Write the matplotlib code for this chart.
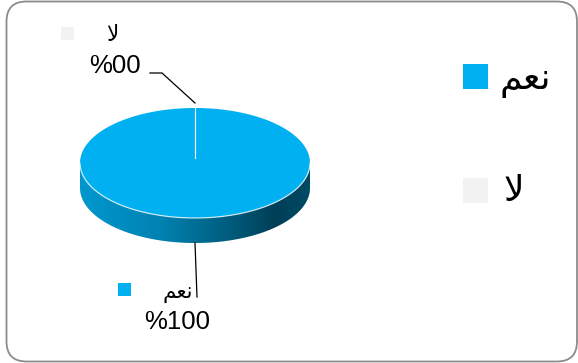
import numpy as np
import matplotlib.pyplot as plt
from matplotlib.patches import Polygon, Rectangle, FancyBboxPatch
from matplotlib.colors import to_rgb

categories = ['نعم', 'لا']
values = [100, 0]
colors = ['#00B0F0', '#F2F2F2']

# matplotlib does no arabic shaping -> visual order with presentation forms
shaped = {'نعم': '\uFEE2\uFECC\uFEE7', 'لا': '\uFEFB'}

fig = plt.figure(figsize=(5.78, 3.63), dpi=100)
ax = fig.add_axes([0, 0, 1, 1])
ax.set_xlim(0, 578)
ax.set_ylim(363, 0)
ax.axis('off')

# rounded frame
ax.add_patch(FancyBboxPatch((6.5, 1.5), 570.5, 360, boxstyle='round,pad=0,rounding_size=20',
                            fc='white', ec='#8c8c8c', lw=1.3, zorder=0))

# 3d pie geometry (pixels)
cx, cy, rx, ry, depth = 195, 163, 115, 55, 25


def ell(t, dy=0):
    t = np.radians(t)
    return cx + rx * np.cos(t), cy - ry * np.sin(t) + dy


total = float(sum(values))
wedges = []
start = 90.0
for v in values:
    span = v / total * 360
    wedges.append((start, start - span))
    start -= span

# side wall (front half only), darker gradient left -> right
shade_pos = [0, 0.35, 0.65, 0.85, 1]
shade_val = [0.86, 0.74, 0.52, 0.36, 0.42]
f = np.interp(np.linspace(0, 1, 256), shade_pos, shade_val)
for (t1, t2), c in zip(wedges, colors):
    if t1 == t2:
        continue
    for k in range(-2, 2):
        lo = max(t2, 180 + 360 * k)
        hi = min(t1, 360 + 360 * k)
        if hi <= lo:
            continue
        tt = np.linspace(lo, hi, 200)
        xa, ya = ell(tt)
        xb, yb = ell(tt[::-1], depth)
        poly = Polygon(np.column_stack([np.r_[xa, xb], np.r_[ya, yb]]), fc='none', ec='none')
        ax.add_patch(poly)
        base = np.array(to_rgb(c))
        img = (f[:, None] * base[None, :])[None, :, :]
        im = ax.imshow(img, extent=(cx - rx, cx + rx, cy + ry + depth + 2, cy - 2),
                       aspect='auto', interpolation='bilinear', zorder=1)
        im.set_clip_path(poly)
        ax.plot(xa, ya, color='white', lw=0.9, alpha=0.75, zorder=3)

# top faces
for (t1, t2), c in zip(wedges, colors):
    if t1 == t2:
        continue
    tt = np.linspace(t1, t2, 400)
    x, y = ell(tt)
    ax.add_patch(Polygon(np.column_stack([np.r_[cx, x], np.r_[cy, y]]), fc=c, ec='none', zorder=2))

# wedge boundaries
for t1, t2 in wedges:
    x, y = ell(t1)
    ax.plot([cx, x], [cy - 5, y], color='white', lw=0.8, alpha=0.8, zorder=3)

# data labels with leader lines
leaders = [[(0, 0), (2, 54)], [(0, -5), (-33, -35), (-45, -35)]]
name_xy = [(178, 299), (112.5, 41)]
pct_xy = [(177.5, 329), (114.5, 73)]
sq_xy = [(124, 289.5), (67.5, 33.5)]
for i, ((t1, t2), v) in enumerate(zip(wedges, values)):
    mid = (t1 + t2) / 2
    ex, ey = ell(mid, depth if np.sin(np.radians(mid)) < 0 else 0)
    pts = np.array(leaders[i]) + [ex, ey]
    ax.plot(pts[:, 0], pts[:, 1], color='black', lw=0.9, zorder=4)
    ax.text(*name_xy[i], shaped[categories[i]], family='DejaVu Sans', fontsize=15.5,
            ha='center', va='baseline')
    ax.text(*pct_xy[i], f'%{v / total * 100:02.0f}', family='Liberation Sans', fontsize=18.5,
            ha='center', va='baseline')
    ax.add_patch(Rectangle((sq_xy[i][0] - 6.5, sq_xy[i][1] - 6.5), 13, 13, fc=colors[i], ec='none'))

# legend
leg_y = [76.5, 190.5]
leg_text_xy = [(525, 89), (514, 201)]
for i in range(len(categories)):
    ax.add_patch(Rectangle((463, leg_y[i] - 12.5), 25, 25, fc=colors[i], ec='none'))
    ax.text(*leg_text_xy[i], shaped[categories[i]], family='DejaVu Sans', fontsize=26,
            ha='center', va='baseline')

fig.savefig('out.png', dpi=100)
